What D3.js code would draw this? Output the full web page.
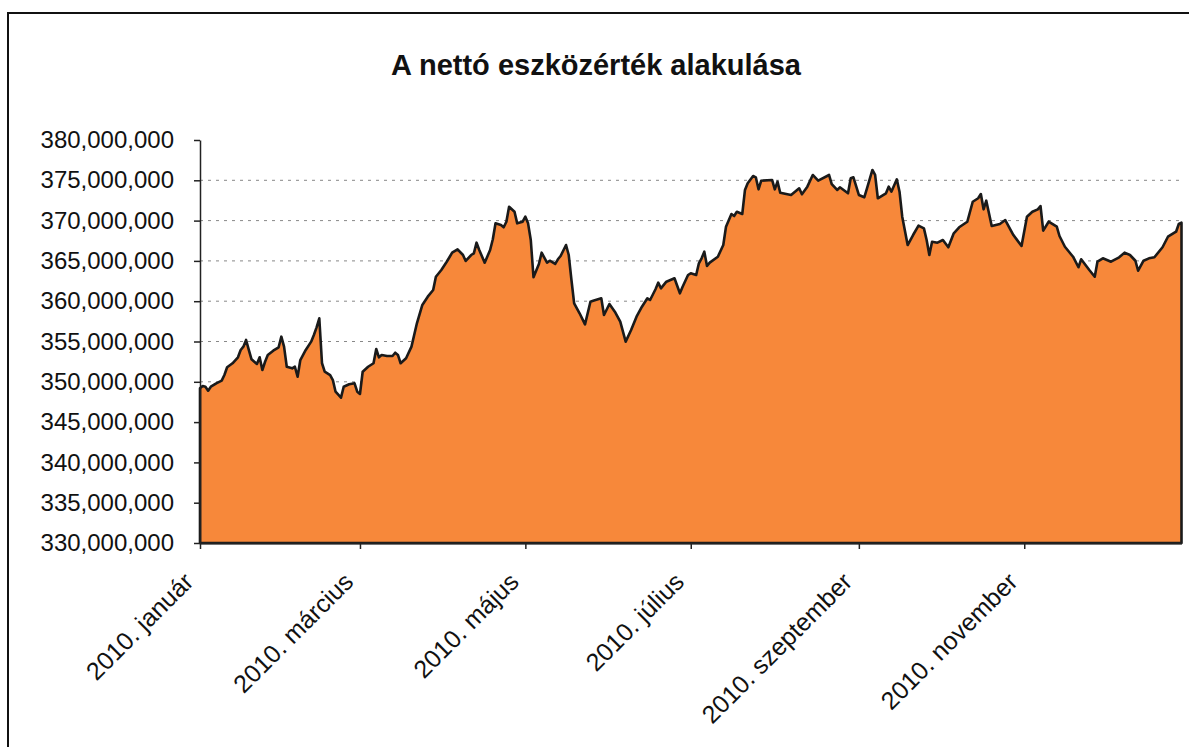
<!DOCTYPE html>
<html>
<head>
<meta charset="utf-8">
<script src="https://cdn.jsdelivr.net/npm/d3@7"></script>
<style>
body { margin: 0; background: #fff; }
text { font-family: "Liberation Sans", Arial, sans-serif; fill: #111; }
</style>
</head>
<body>
<svg width="1189" height="747"></svg>
<script>
var title = "A nettó eszközérték alakulása"
var startDate = new Date(2010, 0, 1)

// days since 2010-01-01 and net asset value in millions HUF
var dayOffsets = [0,1,2,3,4,6,8,9,10,12,14,15,16,17,18,19,21,22,23,24,25,27,29,30,31,32,34,35,36,37,39,41,42,43,44,45,46,48,49,50,52,53,55,57,58,59,60,62,64,65,66,67,69,71,72,73,74,76,78,80,82,84,86,87,89,
  91,93,95,97,98,100,101,102,103,105,107,108,109,111,112,113,114,116,117,119,120,121,122,123,125,126,128,129,131,132,133,135,136,137,138,140,142,144,145,148,149,151,153,155,157,159,161,163,165,166,168,169,170,172,175,177,178,180,
  181,183,184,185,186,187,188,191,193,194,196,197,198,200,201,202,204,205,206,207,211,212,213,214,218,221,222,224,226,228,232,233,235,236,239,240,241,243,245,246,248,249,250,253,254,255,257,258,259,261,263,265,267,268,269,270,
  272,274,276,278,280,283,285,287,288,289,290,292,295,297,300,303,305,307,309,310,311,313,316,317,319,322,324,325,328,330,331,333,336,339,341,343,345,346,348,350,352,355,357,360,361,362]
var navMillions = [349.19,349.48,349.39,348.90,349.39,349.81,350.14,350.84,351.80,352.30,353.04,353.95,354.36,355.19,353.95,352.79,352.21,353.04,351.46,352.49,353.33,353.86,354.28,355.60,354.36,351.87,351.67,351.87,350.63,352.70,353.95,354.98,355.81,356.76,357.88,352.30,351.25,350.84,350.22,348.77,348.03,349.39,349.69,349.81,348.77,348.49,351.25,351.87,352.30,354.07,353.04,353.33,353.20,353.20,353.61,353.33,352.30,352.92,354.36,357.26,359.53,360.56,361.39,363.04,363.87,
  364.90,366.02,366.44,365.73,364.99,365.73,365.94,367.26,366.35,364.78,366.35,367.68,369.66,369.45,369.17,369.86,371.72,371.10,369.66,369.86,370.48,369.66,367.59,362.97,364.62,366.02,364.78,365.02,364.62,365.20,365.61,366.97,365.73,362.63,359.74,358.50,357.13,359.94,360.06,360.36,358.29,359.65,358.70,357.46,354.98,356.43,358.08,359.32,360.36,360.15,361.48,362.30,361.60,362.42,362.84,360.98,361.80,363.25,
  363.46,363.25,364.70,365.32,366.14,364.37,364.78,365.52,366.97,369.24,370.82,370.57,371.10,370.82,373.80,374.63,375.53,375.37,373.88,374.95,375.04,373.88,374.83,373.46,373.18,374.01,373.26,374.21,375.66,374.95,375.66,374.54,373.80,374.13,373.39,375.25,375.37,373.18,372.89,374.01,376.28,375.66,372.77,373.39,374.21,373.59,375.12,373.59,370.48,366.97,368.21,369.37,369.04,367.59,365.73,367.38,
  367.26,367.59,366.69,368.42,369.17,369.86,372.34,372.77,373.30,371.40,372.47,369.33,369.58,370.07,368.21,366.85,370.48,371.10,371.40,371.81,368.75,369.86,369.24,368.09,366.76,365.52,364.21,365.20,363.87,363.04,364.90,365.32,364.90,365.45,366.02,365.73,365.02,363.78,365.02,365.32,365.45,366.69,368.00,368.62,369.58,369.74]

var yTicks = [330,335,340,345,350,355,360,365,370,375,380]
var tickMonths = [0,2,4,6,8,10]
var tickMonthNames = ["január","március","május","július","szeptember","november"]

var svg = d3.select("svg")

var data = dayOffsets.map(function(d, i) {
    return { date: d3.timeDay.offset(startDate, d), value: navMillions[i]*1e6 }
})

var x = d3.scaleTime()
    .domain([startDate, d3.timeDay.offset(startDate, 362)])
    .range([200, 1181.5])
var y = d3.scaleLinear()
    .domain([330e6, 380e6])
    .range([543, 140])

// outer frame
svg.append("rect")
    .attr("x", 8).attr("y", 13)
    .attr("width", 1240).attr("height", 800)
    .attr("fill", "none").attr("stroke", "#111").attr("stroke-width", 2)

svg.append("text")
    .attr("x", 596).attr("y", 75)
    .attr("text-anchor", "middle")
    .style("font-size", "29px").style("font-weight", "bold")
    .text(title)

// dashed gridlines, behind the area
svg.append("g").selectAll("line")
    .data(yTicks.slice(1, -1))
    .enter().append("line")
    .attr("x1", 200).attr("x2", x.range()[1])
    .attr("y1", function(d) { return y(d*1e6) })
    .attr("y2", function(d) { return y(d*1e6) })
    .attr("stroke", "#888").attr("stroke-width", 1)
    .attr("stroke-dasharray", "3,5")

var area = d3.area()
    .x(function(d) { return x(d.date) })
    .y0(y(330e6))
    .y1(function(d) { return y(d.value) })

svg.append("path")
    .datum(data)
    .attr("d", area)
    .attr("fill", "#F7883A")
    .attr("stroke", "#1a1a1a")
    .attr("stroke-width", 2.6)
    .attr("stroke-linejoin", "round")

var yAxis = svg.append("g")
    .attr("transform", "translate(200,0)")
    .call(d3.axisLeft(y)
        .tickValues(yTicks.map(function(v) { return v*1e6 }))
        .tickFormat(d3.format(","))
        .tickSize(6).tickSizeOuter(0).tickPadding(20))
yAxis.selectAll("text").style("font-size", "24px")
yAxis.selectAll("line, path").attr("stroke", "#222").attr("stroke-width", 1.5)

var xAxis = svg.append("g")
    .attr("transform", "translate(0,543)")
    .call(d3.axisBottom(x)
        .tickValues(tickMonths.map(function(m) { return new Date(2010, m, 1) }))
        .tickFormat(function(d, i) { return "2010. " + tickMonthNames[i] })
        .tickSize(6).tickSizeOuter(0))
xAxis.select(".domain").attr("stroke", "#222").attr("stroke-width", 2)
xAxis.selectAll("line").attr("stroke", "#222").attr("stroke-width", 1.5)
xAxis.selectAll("text")
    .style("font-size", "25px")
    .attr("text-anchor", "end")
    .attr("x", 0).attr("y", 0).attr("dy", "0.7em")
    .attr("transform", "translate(-18,28) rotate(-45)")
</script>
</body>
</html>
